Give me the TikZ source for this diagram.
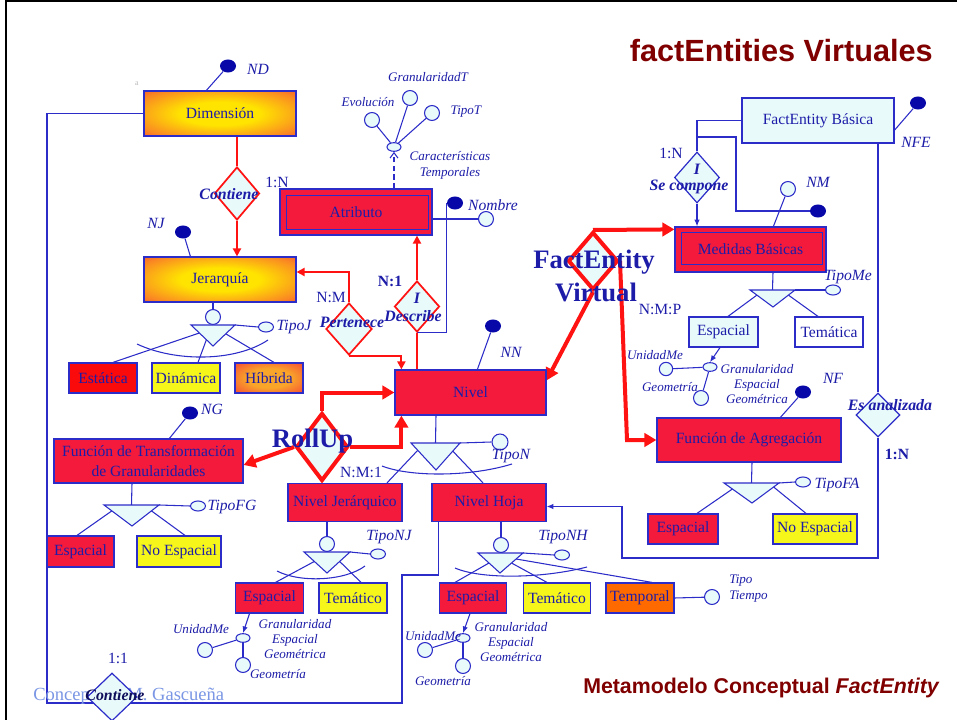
\documentclass[tikz,border=0pt]{standalone}
\usepackage{fontspec}
\setmainfont{Liberation Serif}
\newfontfamily\sansbold{Liberation Sans}
\usetikzlibrary{shapes.geometric,arrows.meta,calc}
\pgfdeclarelayer{bg}
\pgfsetlayers{bg,main}

\definecolor{lblue}{HTML}{2C2CC8}
\definecolor{tblue}{HTML}{1C1CA8}
\definecolor{kblue}{HTML}{0808A8}
\definecolor{ered}{HTML}{F41A3C}
\definecolor{pred}{HTML}{FA0A0A}
\definecolor{rline}{HTML}{FF1212}
\definecolor{pcyan}{HTML}{E8FAFA}
\definecolor{pyel}{HTML}{F6F61A}
\definecolor{porange}{HTML}{FF6A00}
\definecolor{dred}{HTML}{800000}
\definecolor{fblue}{HTML}{7A96E4}
\definecolor{gyel}{HTML}{FFE400}
\definecolor{gmid}{HTML}{FA8A22}
\definecolor{gorange}{HTML}{F9A52A}

% glowing fills: yellow core fading to red at the border
\pgfdeclareradialshading{glowbox}{\pgfpoint{0bp}{0bp}}{color(0bp)=(gyel); color(13bp)=(gyel); color(30bp)=(gmid); color(47bp)=(ered); color(100bp)=(ered)}
\pgfdeclareradialshading{glowsmall}{\pgfpoint{0bp}{0bp}}{color(0bp)=(gorange); color(16bp)=(gorange); color(47bp)=(ered); color(100bp)=(ered)}

\newcommand\entfont{\fontsize{11.7}{14}\selectfont}
\newcommand\labfont{\fontsize{11.7}{14}\selectfont\itshape}
\newcommand\smallit{\fontsize{9.8}{9.3}\selectfont\itshape}
\newcommand\relfont{\fontsize{11.9}{14}\selectfont\bfseries\itshape}
\newcommand\bigrel{\fontsize{20}{24}\selectfont\bfseries}

\tikzset{
  box/.style 2 args={rectangle, draw=lblue, line width=0.9pt,
    minimum width={#1*0.75pt}, minimum height={#2*0.75pt},
    inner sep=0pt, text=tblue, font=\entfont, align=center},
  redbox/.style={fill=ered},
  gradbox/.style={shading=glowbox},
  rel/.style 2 args={diamond, draw=rline, fill=pcyan, line width=1.3pt,
    minimum width={#1*0.75pt}, minimum height={#2*0.75pt}, inner sep=0pt},
  brel/.style 2 args={diamond, draw=lblue, fill=pcyan, line width=0.9pt,
    minimum width={#1*0.75pt}, minimum height={#2*0.75pt}, inner sep=0pt},
  vrel/.style 2 args={diamond, draw=rline, fill=pcyan, line width=3pt,
    minimum width={#1*0.75pt}, minimum height={#2*0.75pt}, inner sep=0pt},
  attr/.style={circle, draw=lblue, fill=pcyan, line width=0.8pt,
    minimum size=11.2pt, inner sep=0pt},
  keyatt/.style={ellipse, fill=kblue, minimum width=12pt,
    minimum height=9.8pt, inner sep=0pt},
  oval/.style={ellipse, draw=lblue, fill=pcyan, line width=0.8pt,
    minimum width=11.2pt, minimum height=7.5pt, inner sep=0pt},
  comp/.style={ellipse, draw=lblue, fill=pcyan, line width=0.8pt,
    minimum width=10.5pt, minimum height=6.5pt, inner sep=0pt},
  bl/.style={draw=lblue, line width=0.8pt},
  rl/.style={draw=rline, line width=1.5pt},
  rt/.style={draw=rline, line width=3pt},
  gen/.style={draw=lblue, fill=pcyan, line width=0.8pt, line join=miter},
  rarr/.style={-{Triangle[length=6pt,width=6pt]}},
  tarr/.style={-{Triangle[length=9pt,width=10pt]}},
  barr/.style={-{Latex[length=5pt,width=4pt]}},
  lab/.style={text=tblue, font=\labfont, inner sep=0pt},
  slab/.style={text=tblue, font=\smallit, inner sep=0pt, align=center},
  card/.style={text=tblue, font=\entfont, inner sep=0pt},
  rlab/.style={text=tblue, font=\relfont, inner sep=0pt},
  biglab/.style={text=tblue, font=\bigrel, inner sep=0pt}
}

\begin{document}
\begin{tikzpicture}[x=0.75pt,y=-0.75pt]
\path[use as bounding box] (0,0) rectangle (957,720);

% slide frame
\draw[black, line width=2.2pt] (6,0) -- (6,720);
\draw[black, line width=1.4pt] (5,1) -- (957,1);

% headings and credits
\node[anchor=base east, text=dred, inner sep=0pt,
  font=\sansbold\bfseries\fontsize{23}{27}\selectfont] (title) at (933,62) {factEntities Virtuales};
\node[anchor=base east, text=dred, inner sep=0pt,
  font=\sansbold\bfseries\fontsize{16}{19}\selectfont] (footer) at (940,693) {Metamodelo Conceptual \textit{FactEntity}};
\node[anchor=base west, text=fblue, inner sep=0pt,
  font=\fontsize{13.9}{16}\selectfont] (author) at (33,700) {Concepción M. Gascueña};
\node[text=gray!55, font=\fontsize{6}{7}\selectfont, inner sep=0pt] (amark) at (137,84) {a};

% ---------- entities ----------
\node[box={152}{45}, gradbox] (dim) at (220,113.5) {Dimensión};
\node[box={152}{45}, gradbox] (jer) at (220,279.5) {Jerarquía};
\node[box={68}{30}, fill=pred] (est) at (103,378) {Estática};
\node[box={68}{30}, fill=pyel] (din) at (186,378) {Dinámica};
\node[box={68}{30}, shading=glowsmall] (hib) at (269,378) {Híbrida};

\node[box={152}{46}, redbox] (atr) at (356,212) {Atributo};
\draw[lblue, line width=0.8pt] ($(atr.north west)+(7,7)$) rectangle ($(atr.south east)+(-4,-6)$);

\node[box={151}{45}, redbox] (niv) at (470.5,392.5) {Nivel};
\node[box={189}{44}, redbox] (ftg) at (148.5,461) {Función de Transformación\\[1pt]de Granularidades};
\node[box={67}{31}, redbox] (ftge) at (80.5,551.5) {Espacial};
\node[box={84}{31}, fill=pyel] (ftgn) at (179,551.5) {No Espacial};

\node[box={114}{38}, redbox] (nj) at (345,502.5) {Nivel Jerárquico};
\node[box={114}{38}, redbox] (nh) at (489,502.5) {Nivel Hoja};
\node[box={68}{30}, redbox] (nje) at (269.5,598) {Espacial};
\node[box={68}{30}, fill=pyel] (njt) at (353,598) {Temático};
\node[box={67}{30}, redbox] (nhe) at (473,598) {Espacial};
\node[box={67}{30}, fill=pyel] (nht) at (557,598) {Temático};
\node[box={68}{30}, fill=porange] (nhtp) at (640,598) {Temporal};

\node[box={152}{45}, fill=pcyan] (feb) at (818,120.5) {FactEntity Básica};
\node[box={151}{45}, redbox] (mb) at (750.5,249.5) {Medidas Básicas};
\draw[lblue, line width=0.8pt] ($(mb.north west)+(7,6)$) rectangle ($(mb.south east)+(-4,-8)$);
\node[box={69}{30}, fill=pcyan] (mbe) at (723.5,332) {Espacial};
\node[box={68}{30}, fill=white] (mbt) at (829,332) {Temática};

\node[box={184}{44}, redbox] (fa) at (749,440) {Función de Agregación};
\node[box={70}{30}, redbox] (fae) at (683,529) {Espacial};
\node[box={84}{30}, fill=pyel] (fan) at (815,529) {No Espacial};

% ---------- relationships ----------
\node[rel={45}{53}] (cont1) at (237,193.5) {};
\node[rel={46}{52}] (pert) at (349,329) {};
\node[rel={45}{51}] (desc) at (417,306.5) {};
\node[vrel={52}{68}] (rollup) at (322,447) {};
\node[vrel={50}{58}] (fev) at (593,261) {};
\node[brel={45}{51}] (scomp) at (697,177.5) {};
\node[brel={44}{44}] (esan) at (878,415) {};
\node[brel={50}{48}] (cont2) at (112,697) {};

% ---------- attributes ----------
\node[keyatt] (ndk) at (228,66) {};
\node[keyatt] (njk) at (183,232) {};
\node[attr] (jerc) at (213,317) {};
\node[oval] (tipoj) at (266,327) {};

\node[comp] (ctemp) at (394,147) {};
\node[attr] (evo) at (372,120) {};
\node[attr] (grt) at (410,98) {};
\node[attr] (tpt) at (432,113) {};
\node[keyatt] (nomk) at (455,203) {};
\node[attr] (nomc) at (486,219) {};

\node[keyatt] (nnk) at (493,326) {};
\node[attr, minimum size=12pt] (tipon) at (500,442) {};

\node[keyatt] (ngk) at (190,413) {};
\node[oval] (tipofg) at (198,506) {};

\node[attr] (njc) at (327,544) {};
\node[oval] (tiponj) at (378,554) {};
\node[attr] (nhc) at (501,545) {};
\node[oval] (tiponh) at (562,555) {};
\node[attr] (ttc) at (712,597) {};

\node[comp] (njec) at (243,638) {};
\node[attr] (njeu) at (205,650) {};
\node[attr] (njeg) at (243,665) {};
\node[comp] (nhec) at (463,638) {};
\node[attr] (nheu) at (425,650) {};
\node[attr] (nheg) at (463,666) {};

\node[keyatt] (nfek) at (918,103) {};
\node[keyatt] (mbk) at (818,211) {};
\node[attr] (nmc) at (788,189) {};
\node[oval] (tipome) at (833,290) {};
\node[comp] (mbec) at (710,367) {};
\node[attr, minimum size=10pt] (mbeu) at (666,369) {};
\node[attr] (mbeg) at (701,398) {};
\node[keyatt] (nfk) at (803,392) {};
\node[oval] (tipofa) at (803,482) {};

% ---------- generalization triangles ----------
\coordinate (jTl) at (191,325); \coordinate (jTr) at (235,325); \coordinate (jTb) at (213,346);
\coordinate (nTl) at (411,443); \coordinate (nTr) at (460,443); \coordinate (nTb) at (436,470);
\coordinate (gTl) at (104,505); \coordinate (gTr) at (159,505); \coordinate (gTb) at (132,526);
\coordinate (qTl) at (304,552); \coordinate (qTr) at (350,552); \coordinate (qTb) at (327,573);
\coordinate (hTl) at (478,553); \coordinate (hTr) at (523,553); \coordinate (hTb) at (500,573);
\coordinate (mTl) at (750,290); \coordinate (mTr) at (795,290); \coordinate (mTb) at (773,307);
\coordinate (fTl) at (724,483); \coordinate (fTr) at (779,483); \coordinate (fTb) at (752,503);
\foreach \t in {j,n,g,q,h,m,f}{
  \draw[gen] (\t Tl) -- (\t Tr) -- (\t Tb) -- cycle;
}

% bend points
\coordinate (lp1) at (47,703);
\coordinate (lp2) at (402,575);
\coordinate (eb) at (622,558);
\coordinate (scj) at (697,137);
\coordinate (scb) at (736,211);
\coordinate (fevb) at (627,440);

% ---------- connectors ----------
\begin{pgfonlayer}{bg}
  % Dimension / Jerarquia
  \draw[bl] (ndk) -- ($(dim.north west)+(63,0)$);
  \draw[rl] (dim.south -| cont1.north) -- (cont1.north);
  \draw[rl, rarr] (cont1.south) -- (jer.north -| cont1.south);
  \draw[bl] (njk) -- ($(jer.north west)+(47,0)$);
  \draw[bl] (jer.south -| jerc) -- (jerc);
  \draw[bl] (jTr) -- (tipoj.west);
  \draw[bl] (137,344) .. controls (175,362) and (235,362) .. (268,340);
  \draw[bl] ($(jTl)!0.38!(jTb)$) -- ($(est.north)+(10,0)$);
  \draw[bl] ($(jTl)!0.7!(jTb)$) -- ($(din.north)+(12,0)$);
  \draw[bl] ($(jTr)!0.42!(jTb)$) -- ($(hib.north)+(5,0)$);

  % Atributo
  \draw[bl, dashed, dash pattern=on 4pt off 2.5pt, -{Straight Barb[length=4pt,width=6pt]}]
    (atr.north -| ctemp) -- (ctemp.south);
  \draw[bl] (ctemp) -- (evo);
  \draw[bl] (ctemp) -- (grt);
  \draw[bl] (ctemp) -- (tpt);
  \draw[bl] (atr.east |- nomc) -- (nomc);
  \draw[bl] (nomk.west) -- (nomk.west |- desc.south) -- (desc.south);
  \draw[rl, rarr] (desc.north) -- (atr.south -| desc.north);
  \draw[rl] (desc.south) -- (niv.north -| desc.south);
  \draw[rl, rarr] (pert.north) |- ($(jer.east)+(0,-7.5)$);
  \draw[rl, rarr] (pert.south) -| ($(niv.north west)+(7,0)$);

  % Nivel
  \draw[bl] (nnk) -- ($(niv.north west)+(83,0)$);
  \draw[bl] (niv.south -| nTb) -- ($(nTl)!0.5!(nTr)$);
  \draw[bl] (nTr) -- (tipon.west);
  \draw[bl] (382,466) .. controls (410,477) and (470,477) .. (512,464);
  \draw[bl] ($(nTl)!0.27!(nTb)$) -- ($(nj.north)+(42,0)$);
  \draw[bl] ($(nTr)!0.3!(nTb)$) -- ($(nh.north)+(-6,0)$);

  % Funcion de Transformacion
  \draw[bl] (ngk) -- ($(ftg.north west)+(116,0)$);
  \draw[bl] (ftg.south -| gTb) -- ($(gTl)!0.5!(gTr)$);
  \draw[bl] (gTr) -- (tipofg.west);
  \draw[bl] ($(gTl)!0.28!(gTb)$) -- ($(ftge.north)+(-3.5,0)$);
  \draw[bl] ($(gTr)!0.28!(gTb)$) -- ($(ftgn.north)+(6,0)$);

  % Nivel Jerarquico
  \draw[bl] (nj.south -| njc) -- (njc);
  \draw[bl] (qTr) -- (tiponj.west);
  \draw[bl] (277,571) .. controls (300,583) and (345,581) .. (365,566);
  \draw[bl] ($(qTl)!0.45!(qTb)$) -- ($(nje.north)+(6,0)$);
  \draw[bl] ($(qTr)!0.45!(qTb)$) -- ($(njt.north)+(8,0)$);
  \draw[bl, barr] ($(nje.south)+(-20,0)$) -- (njec.north);
  \draw[bl] (njec) -- (njeu);
  \draw[bl] (njec) -- (njeg);

  % Nivel Hoja
  \draw[bl] (dim.west) -| (lp1) -| (lp2) -| ($(nh.south west)+(7,0)$);
  \draw[bl] (nh.south -| nhc) -- (nhc);
  \draw[bl] (hTr) -- (tiponh.west);
  \draw[bl] (455,568) .. controls (480,579) and (540,579) .. (587,567);
  \draw[bl] ($(hTl)!0.5!(hTb)$) -- ($(nhe.north)+(-18,0)$);
  \draw[bl] ($(hTr)!0.5!(hTb)$) -- ($(nht.north)+(-10,0)$);
  \draw[bl] ($(hTr)!0.3!(hTb)$) -- ($(nhtp.north)+(12,0)$);
  \draw[bl] (nhtp.east) -- (ttc);
  \draw[bl, barr] ($(nhe.south)+(-3,0)$) -- (nhec.north);
  \draw[bl] (nhec) -- (nheu);
  \draw[bl] (nhec) -- (nheg);

  % FactEntity Basica / Medidas Basicas
  \draw[bl] (nfek) -- ($(feb.north east)+(-2,35)$);
  \draw[bl] (feb.south -| esan.north) -- (esan.north);
  \draw[bl, barr] (esan.south) |- (eb) |- ($(nh.east)+(0,4)$);
  \draw[bl] (feb.west) -| (scomp.north);
  \draw[bl] (scj) -| (scb) -- (mbk);
  \draw[bl, barr] (scomp.south) -- (mb.north -| scomp.south);
  \draw[bl] (nmc) -- ($(mb.north west)+(99,0)$);
  \draw[bl] (mb.south -| mTb) -- ($(mTl)!0.5!(mTr)$);
  \draw[bl] (mTr) -- (tipome.west);
  \draw[bl] ($(mTl)!0.3!(mTb)$) -- ($(mbe.north)+(4.5,0)$);
  \draw[bl] ($(mTr)!0.3!(mTb)$) -- ($(mbt.north)+(-11,0)$);
  \draw[bl, barr] ($(mbe.south)+(-3.5,0)$) -- (mbec.north);
  \draw[bl] (mbec) -- (mbeu);
  \draw[bl] (mbec) -- (mbeg);

  % Funcion de Agregacion
  \draw[bl] (nfk) -- ($(fa.north west)+(124,0)$);
  \draw[bl] (fa.south -| fTb) -- ($(fTl)!0.5!(fTr)$);
  \draw[bl] (fTr) -- (tipofa.west);
  \draw[bl] ($(fTl)!0.3!(fTb)$) -- ($(fae.north)+(14,0)$);
  \draw[bl] ($(fTr)!0.2!(fTb)$) -- ($(fan.north)+(-9,0)$);

  % RollUp and FactEntity Virtual
  \draw[rt, tarr] (rollup.north) |- (niv.west);
  \draw[rt, tarr] (rollup.east) -| ($(niv.south west)+(7,0)$);
  \draw[rt, tarr] (rollup.west) -- ($(ftg.east)+(0,4)$);
  \draw[rt, tarr] (fev.north) -- ($(mb.north west)+(0,3)$);
  \draw[rt, tarr] (fev.south) -- ($(niv.north east)+(0,11)$);
  \draw[rt, tarr] (fev.east) -- (fevb) -- (fa.west);
\end{pgfonlayer}

% ---------- labels ----------
\node[lab] (ndl) at (258,69) {ND};
\node[lab] (njl) at (156,223) {NJ};
\node[lab] (tipojl) at (294,327) {TipoJ};
\node[slab] (evol) at (368,102) {Evolución};
\node[slab] (grtl) at (428,77) {GranularidadT};
\node[slab] (tptl) at (466,112) {TipoT};
\node[slab, font=\fontsize{9.8}{12.5}\selectfont\itshape] (ctl) at (450,165.5) {Características\\Temporales};
\node[lab] (noml) at (493,205) {Nombre};
\node[lab] (nnl) at (511,352) {NN};
\node[lab] (tiponl) at (511,456) {TipoN};
\node[lab] (ngl) at (212,409) {NG};
\node[lab] (tipofgl) at (232,507) {TipoFG};
\node[lab] (tiponjl) at (389,537) {TipoNJ};
\node[lab] (tiponhl) at (563,537) {TipoNH};
\node[slab, anchor=west] (tipotl) at (729,581) {Tipo};
\node[slab, anchor=west] (tiempol) at (729,597) {Tiempo};
\node[slab] (njeul) at (201,629) {UnidadMe};
\node[slab, font=\fontsize{9.8}{11.5}\selectfont\itshape] (njegr) at (295,639) {Granularidad\\Espacial\\Geométrica};
\node[slab] (njegl) at (278,674) {Geometría};
\node[slab] (nheul) at (433,636) {UnidadMe};
\node[slab, font=\fontsize{9.8}{11.5}\selectfont\itshape] (nhegr) at (511,642) {Granularidad\\Espacial\\Geométrica};
\node[slab] (nhegl) at (443,681) {Geometría};
\node[lab] (nfel) at (916,142) {NFE};
\node[lab] (nml) at (818,182) {NM};
\node[lab] (tipomel) at (848,277) {TipoMe};
\node[slab] (mbeul) at (655,355) {UnidadMe};
\node[slab] (mbegl) at (670,387) {Geometría};
\node[slab, font=\fontsize{9.8}{11.5}\selectfont\itshape] (mbegr) at (757,384) {Granularidad\\Espacial\\Geométrica};
\node[lab] (nfl) at (833,378) {NF};
\node[lab] (tipofal) at (837,485) {TipoFA};

% relationship names and cardinalities
\node[rlab] (cont1l) at (229,194) {Contiene};
\node[card] (cont1c) at (277,182) {1:N};
\node[rlab] (pertl) at (352,322) {Pertenece};
\node[card] (pertc) at (331,298) {N:M};
\node[rlab] (descI) at (417,298) {I};
\node[rlab] (descl) at (413,316) {Describe};
\node[card, font=\entfont\bfseries] (descc) at (390,281) {N:1};
\node[biglab] (rollupl) at (312.5,441) {RollUp};
\node[biglab] (fevl1) at (594,262) {FactEntity};
\node[biglab] (fevl2) at (596,292) {Virtual};
\node[card] (fevc) at (660,310) {N:M:P};
\node[rlab] (scI) at (697,169.5) {I};
\node[rlab] (scl) at (689,186.5) {Se compone};
\node[card] (scc) at (671,153) {1:N};
\node[rlab] (esanl) at (890,405) {Es analizada};
\node[card, font=\entfont\bfseries] (esanc) at (897,454) {1:N};
\node[card] (nivc) at (361,472) {N:M:1};
\node[rlab, text=tblue!55!black] (cont2l) at (115,695) {Contiene};
\node[card] (cont2c) at (118,658) {1:1};
\end{tikzpicture}
\end{document}
